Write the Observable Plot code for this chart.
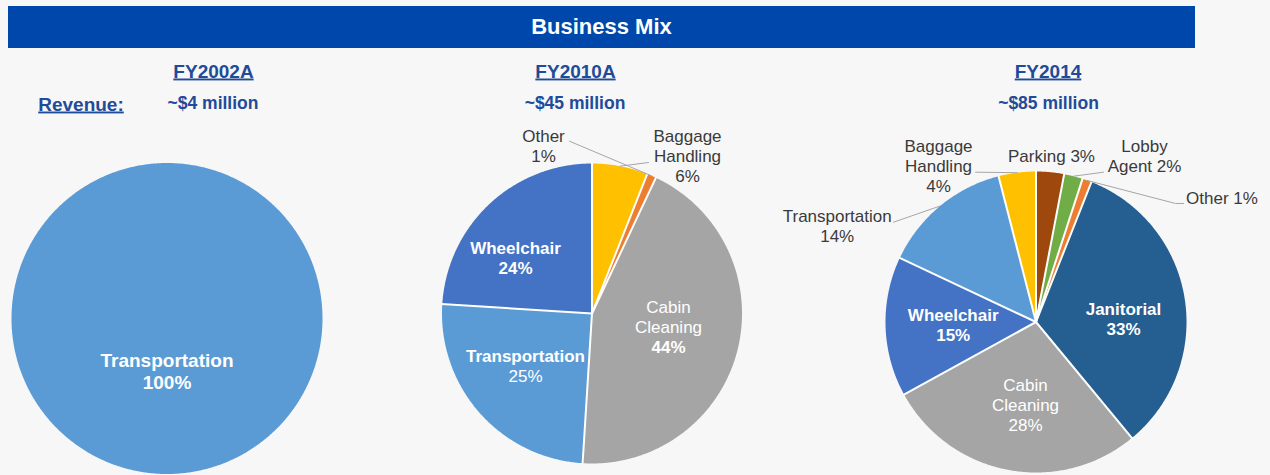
<!DOCTYPE html>
<html><head><meta charset="utf-8">
<script src="https://cdn.jsdelivr.net/npm/d3@7"></script>
<script src="https://cdn.jsdelivr.net/npm/@observablehq/plot@0.6"></script>
<style>
html,body{margin:0;padding:0;background:#f7f7f7;}
#head{height:48px;position:relative;}
#bar{position:absolute;left:8px;top:6px;width:1187px;height:42px;background:#0047ab;color:#fff;
 font:bold 22px "Liberation Sans",Arial,sans-serif;display:flex;align-items:center;justify-content:center;}
#chart svg{display:block;}
</style></head><body>
<div id="head"><div id="bar"></div></div>
<div id="chart"></div>
<script>
// ---------- data ----------
const title = "Business Mix";
const periods = ["FY2002A", "FY2010A", "FY2014"];
const revenues = ["~$4 million", "~$45 million", "~$85 million"];
const revenueLabel = "Revenue:";
const categories2002 = ["Transportation"];
const shares2002 = [100];
const categories2010 = ["Baggage Handling", "Other", "Cabin Cleaning", "Transportation", "Wheelchair"];
const shares2010 = [6, 1, 44, 25, 24];
const categories2014 = ["Parking", "Lobby Agent", "Other", "Janitorial", "Cabin Cleaning", "Wheelchair", "Transportation", "Baggage Handling"];
const shares2014 = [3, 2, 1, 33, 28, 15, 14, 4];

// ---------- styles & layout ----------
const W = 1270, H = 475, TOP = 48;
const FONT = "Liberation Sans, Arial, sans-serif";
const colorDomain = ["Transportation", "Wheelchair", "Cabin Cleaning", "Baggage Handling", "Other", "Janitorial", "Parking", "Lobby Agent"];
const colorRange = ["#5b9bd5", "#4472c4", "#a5a5a5", "#ffc000", "#ed7d31", "#255e91", "#9e480e", "#70ad47"];
const headColor = "#1f4b99";
const pieLayout = [
  {cx: 166.5, cy: 318, r: 155.5, headX: 213, revX: 212.5},
  {cx: 591.5, cy: 313, r: 150, headX: 575, revX: 574.5},
  {cx: 1035.5, cy: 321.5, r: 150.5, headX: 1047.5, revX: 1048}
];
const headY = 77, revY = 108, revLabelX = 80.5, revLabelY = 110;
const LABEL_FS = 17, LINE_H = 20;
// label placement: offsets relative to pie centre; leader = start points (relative), ends at slice mid-angle on rim
const labelLayout = [
  {pie: 0, cat: "Transportation", lines: ["Transportation", "{v}%"], dx: 0, dy: 53, inside: true, bold: [1, 1], fs: 19, lh: 22},
  {pie: 1, cat: "Baggage Handling", lines: ["Baggage", "Handling", "{v}%"], dx: 95.5, dy: -156.7, leader: [[56.5, -151]]},
  {pie: 1, cat: "Other", lines: ["Other", "{v}%"], dx: -48.5, dy: -166.7, leader: [[-22.5, -172.3]]},
  {pie: 1, cat: "Cabin Cleaning", lines: ["Cabin", "Cleaning", "{v}%"], dx: 76.5, dy: 14.3, inside: true, bold: [0, 0, 1]},
  {pie: 1, cat: "Transportation", lines: ["Transportation", "{v}%"], dx: -66.5, dy: 53.3, inside: true, bold: [1, 0]},
  {pie: 1, cat: "Wheelchair", lines: ["Wheelchair", "{v}%"], dx: -76.5, dy: -54.9, inside: true, bold: [1, 1]},
  {pie: 2, cat: "Parking", lines: ["Parking {v}%"], dx: 15.5, dy: -165.2},
  {pie: 2, cat: "Lobby Agent", lines: ["Lobby", "Agent {v}%"], dx: 108.5, dy: -165.2, leader: [[67.5, -149.8]]},
  {pie: 2, cat: "Other", lines: ["Other {v}%"], dx: 186, dy: -123.9, leader: [[147.5, -118.5], [139.5, -118.5]]},
  {pie: 2, cat: "Janitorial", lines: ["Janitorial", "{v}%"], dx: 87.5, dy: -2.9, inside: true, bold: [1, 1]},
  {pie: 2, cat: "Cabin Cleaning", lines: ["Cabin", "Cleaning", "{v}%"], dx: -10.5, dy: 83.1, inside: true, bold: [0, 0, 0]},
  {pie: 2, cat: "Wheelchair", lines: ["Wheelchair", "{v}%"], dx: -82.8, dy: 3.1, inside: true, bold: [1, 1]},
  {pie: 2, cat: "Transportation", lines: ["Transportation", "{v}%"], dx: -198.8, dy: -95.2, leader: [[-142.5, -99.8]]},
  {pie: 2, cat: "Baggage Handling", lines: ["Baggage", "Handling", "{v}%"], dx: -97.5, dy: -155.2, leader: [[-60.5, -149.8]]}
];

document.getElementById("bar").textContent = title;

// ---------- build slices from data ----------
const pies = [
  {cats: categories2002, vals: shares2002},
  {cats: categories2010, vals: shares2010},
  {cats: categories2014, vals: shares2014}
];
const slices = [];
pies.forEach((p, i) => {
  const arcs = d3.pie().sort(null).value(d => d)(p.vals);
  arcs.forEach((a, j) => slices.push({pie: i, cat: p.cats[j], value: p.vals[j], a0: a.startAngle, a1: a.endAngle, key: i + "-" + j}));
});
const rimPoint = (i, a, k = 1) => {
  const L = pieLayout[i];
  return {x: L.cx + k * L.r * Math.sin(a), y: L.cy - k * L.r * Math.cos(a)};
};
const polyPts = slices.flatMap(s => {
  const L = pieLayout[s.pie];
  const full = s.a1 - s.a0 >= 2 * Math.PI - 1e-9;
  const pts = [];
  if (!full) pts.push({x: L.cx, y: L.cy});
  const n = Math.max(4, Math.ceil((s.a1 - s.a0) / (Math.PI / 360)));
  for (let k = 0; k <= n; k++) pts.push(rimPoint(s.pie, s.a0 + (s.a1 - s.a0) * k / n));
  if (!full) pts.push({x: L.cx, y: L.cy});
  return pts.map(p => ({...p, key: s.key, cat: s.cat}));
});
const separators = slices.filter(s => pies[s.pie].vals.length > 1).map(s => {
  const L = pieLayout[s.pie], e = rimPoint(s.pie, s.a0, 1.005);
  return {x1: L.cx, y1: L.cy, x2: e.x, y2: e.y};
});

// ---------- labels ----------
const labelLines = [];
const leaderPts = [];
labelLayout.forEach((lab, li) => {
  const s = slices.find(d => d.pie === lab.pie && d.cat === lab.cat);
  const L = pieLayout[lab.pie];
  const n = lab.lines.length;
  const lh = lab.lh || LINE_H;
  lab.lines.forEach((t, k) => {
    labelLines.push({
      text: t.replace("{v}", s.value),
      x: L.cx + lab.dx,
      y: L.cy + lab.dy + (k - (n - 1) / 2) * lh,
      inside: !!lab.inside,
      big: !!lab.fs,
      bold: lab.inside ? !!lab.bold[k] : false
    });
  });
  if (lab.leader) {
    lab.leader.forEach(([dx, dy]) => leaderPts.push({x: L.cx + dx, y: L.cy + dy, key: li}));
    const e = rimPoint(lab.pie, (s.a0 + s.a1) / 2, 1.0);
    leaderPts.push({x: e.x, y: e.y, key: li});
  }
});

const heads = periods.map((p, i) => ({text: p, x: pieLayout[i].headX, y: headY - 0.32 * 19}));
const revs = revenues.map((r, i) => ({text: r, x: pieLayout[i].revX, y: revY - 0.32 * 17.5}));
const revLab = [{text: revenueLabel, x: revLabelX, y: revLabelY - 0.32 * 19}];

const plot = Plot.plot({
  width: W, height: H - TOP,
  marginTop: 0, marginRight: 0, marginBottom: 0, marginLeft: 0,
  x: {domain: [0, W], range: [0, W], axis: null},
  y: {domain: [TOP, H], range: [0, H - TOP], axis: null},
  color: {domain: colorDomain, range: colorRange},
  style: {background: "transparent", fontFamily: FONT, overflow: "visible"},
  marks: [
    Plot.line(polyPts, {x: "x", y: "y", z: "key", fill: "cat", stroke: null, curve: "linear"}),
    Plot.link(separators, {x1: "x1", y1: "y1", x2: "x2", y2: "y2", stroke: "white", strokeWidth: 2}),
    Plot.line(leaderPts, {x: "x", y: "y", z: "key", stroke: "#a6a6a6", strokeWidth: 1}),
    Plot.text(labelLines.filter(d => !d.inside), {x: "x", y: "y", text: "text", fill: "#3a3a3a", fontSize: LABEL_FS, lineAnchor: "middle"}),
    Plot.text(labelLines.filter(d => d.inside && d.bold && !d.big), {x: "x", y: "y", text: "text", fill: "white", fontSize: LABEL_FS, fontWeight: "bold", lineAnchor: "middle"}),
    Plot.text(labelLines.filter(d => d.inside && d.bold && d.big), {x: "x", y: "y", text: "text", fill: "white", fontSize: 19, fontWeight: "bold", lineAnchor: "middle"}),
    Plot.text(labelLines.filter(d => d.inside && !d.bold), {x: "x", y: "y", text: "text", fill: "white", fontSize: LABEL_FS, lineAnchor: "middle"}),
    Plot.text(heads, {x: "x", y: "y", text: "text", fill: headColor, fontSize: 19, fontWeight: "bold", lineAnchor: "middle"}),
    Plot.text(revLab, {x: "x", y: "y", text: "text", fill: headColor, fontSize: 19, fontWeight: "bold", lineAnchor: "middle"}),
    Plot.text(revs, {x: "x", y: "y", text: "text", fill: headColor, fontSize: 17.5, fontWeight: "bold", lineAnchor: "middle"})
  ]
});
const underlined = new Set([...periods, revenueLabel]);
d3.select(plot).selectAll("text").filter(function () { return underlined.has(this.textContent); })
  .style("text-decoration", "underline");
document.getElementById("chart").appendChild(plot);
</script>
</body></html>
